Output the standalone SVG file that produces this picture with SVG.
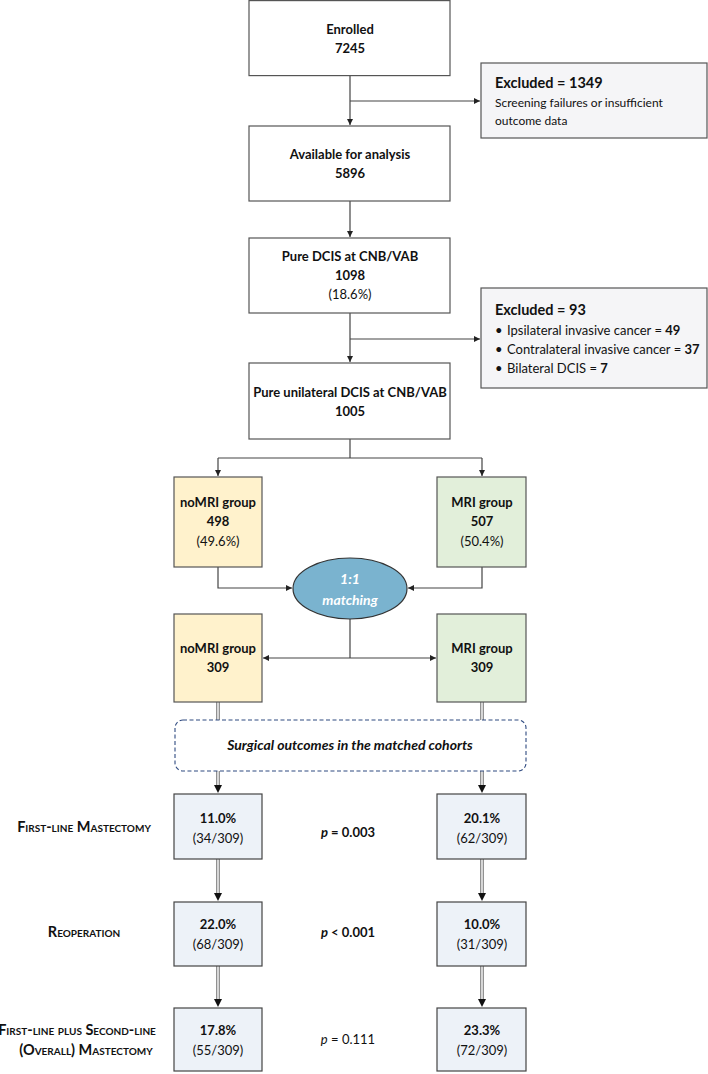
<svg xmlns="http://www.w3.org/2000/svg" width="708" height="1074" viewBox="0 0 708 1074">
<style>
text{font-family:Lato,"Open Sans","Liberation Sans",sans-serif;font-size:13px;fill:#111}
.b{font-weight:bold}
.c{text-anchor:middle}
.h{font-weight:bold;font-size:14.5px}
.box{fill:#fff;stroke:#555;stroke-width:1.2}
.exc{fill:#f5f5f7;stroke:#555;stroke-width:1.2}
.no{fill:#fff2cc;stroke:#555;stroke-width:1.2}
.mri{fill:#e2efda;stroke:#555;stroke-width:1.2}
.out{fill:#edf2f8;stroke:#444;stroke-width:1.2}
.ln{fill:none;stroke:#444;stroke-width:1.2}
.dO{fill:none;stroke:#777;stroke-width:3.6}
.dI{fill:none;stroke:#fff;stroke-width:1.4}
.lab{font-weight:bold;font-variant:small-caps;text-anchor:middle;font-size:14.5px}
.sm{font-size:12px}
</style>
<defs>
<marker id="ar" viewBox="0 0 10 10" refX="10" refY="5" markerWidth="6" markerHeight="6" markerUnits="userSpaceOnUse" orient="auto"><path d="M0,0L10,5L0,10z" fill="#222"/></marker>
<marker id="ab" viewBox="0 0 10 10" refX="10" refY="5" markerWidth="8" markerHeight="8" markerUnits="userSpaceOnUse" orient="auto"><path d="M0,0L10,5L0,10z" fill="#111"/></marker>
</defs>

<g id="connectors">
<path class="ln" d="M350,75V125" marker-end="url(#ar)"/>
<path class="ln" d="M350,101H480" marker-end="url(#ar)"/>
<path class="ln" d="M350,201V237" marker-end="url(#ar)"/>
<path class="ln" d="M350,313V362" marker-end="url(#ar)"/>
<path class="ln" d="M350,339H480" marker-end="url(#ar)"/>
<path class="ln" d="M350,439V458"/>
<path class="ln" d="M218,458H482"/>
<path class="ln" d="M218,458V476" marker-end="url(#ar)"/>
<path class="ln" d="M482,458V476" marker-end="url(#ar)"/>
<path class="ln" d="M218,567V588H292" marker-end="url(#ar)"/>
<path class="ln" d="M482,567V588H408" marker-end="url(#ar)"/>
<path class="ln" d="M350,619V658"/>
<path class="ln" d="M350,658H263" marker-end="url(#ar)"/>
<path class="ln" d="M350,658H436" marker-end="url(#ar)"/>
<path class="dO" d="M218,702V720M482,702V720"/>
<path class="dI" d="M218,702V720M482,702V720"/>
<path class="dO" d="M218,771V786M482,771V786"/>
<path class="dI" d="M218,771V786M482,771V786"/>
<path d="M218,784V793" stroke="none" marker-end="url(#ab)"/>
<path d="M482,784V793" stroke="none" marker-end="url(#ab)"/>
<path class="dO" d="M218,859V894M482,859V894"/>
<path class="dI" d="M218,859V894M482,859V894"/>
<path d="M218,890V901" stroke="none" marker-end="url(#ab)"/>
<path d="M482,890V901" stroke="none" marker-end="url(#ab)"/>
<path class="dO" d="M218,966V1000M482,966V1000"/>
<path class="dI" d="M218,966V1000M482,966V1000"/>
<path d="M218,996V1007" stroke="none" marker-end="url(#ab)"/>
<path d="M482,996V1007" stroke="none" marker-end="url(#ab)"/>
</g>

<g id="enrolled"><rect class="box" x="249" y="0.6" width="201" height="75"/><text class="b c" x="350" y="34">Enrolled</text><text class="b c" x="350" y="53">7245</text></g>
<g id="excluded1"><rect class="exc" x="481" y="63" width="226" height="75"/><text class="h" x="495" y="88">Excluded = 1349</text><text class="sm" x="495" y="107">Screening failures or insufficient</text><text class="sm" x="495" y="125">outcome data</text></g>
<g id="available"><rect class="box" x="249" y="126" width="201" height="75"/><text class="b c" x="350" y="159">Available for analysis</text><text class="b c" x="350" y="178">5896</text></g>
<g id="pure-dcis"><rect class="box" x="249" y="238" width="201" height="75"/><text class="b c" x="350" y="261">Pure DCIS at CNB/VAB</text><text class="b c" x="350" y="280">1098</text><text class="c" x="350" y="299">(18.6%)</text></g>
<g id="excluded2"><rect class="exc" x="481" y="288" width="226" height="100"/><text class="h" x="495" y="315">Excluded = 93</text>
<text x="495" y="335">•<tspan x="507">Ipsilateral invasive cancer = </tspan><tspan class="b">49</tspan></text>
<text x="495" y="354">•<tspan x="507">Contralateral invasive cancer = </tspan><tspan class="b">37</tspan></text>
<text x="495" y="373">•<tspan x="507">Bilateral DCIS = </tspan><tspan class="b">7</tspan></text></g>
<g id="pure-unilateral"><rect class="box" x="249" y="363" width="201" height="76"/><text class="b c" x="350" y="397">Pure unilateral DCIS at CNB/VAB</text><text class="b c" x="350" y="416">1005</text></g>
<g id="nomri1"><rect class="no" x="174" y="477" width="88" height="90"/><text class="b c" x="218" y="507">noMRI group</text><text class="b c" x="218" y="526">498</text><text class="c" x="218" y="546">(49.6%)</text></g>
<g id="mri1"><rect class="mri" x="437" y="477" width="89" height="90"/><text class="b c" x="482" y="507">MRI group</text><text class="b c" x="482" y="526">507</text><text class="c" x="482" y="546">(50.4%)</text></g>
<g id="matching"><ellipse cx="350" cy="588.5" rx="57" ry="30.5" fill="#7ab3cf" stroke="#333" stroke-width="1.2"/><text class="b c" x="350" y="584" font-style="italic" style="fill:#fff;font-size:14px">1:1</text><text class="b c" x="350" y="605" font-style="italic" style="fill:#fff;font-size:14px">matching</text></g>
<g id="nomri2"><rect class="no" x="174" y="614" width="88" height="88"/><text class="b c" x="218" y="653">noMRI group</text><text class="b c" x="218" y="672">309</text></g>
<g id="mri2"><rect class="mri" x="437" y="614" width="89" height="88"/><text class="b c" x="482" y="653">MRI group</text><text class="b c" x="482" y="672">309</text></g>
<g id="surgical"><rect x="175" y="720" width="351" height="51" rx="8" fill="#fff" stroke="#2f4a80" stroke-width="1.1" stroke-dasharray="4,2.5"/><text class="b c" x="350" y="750" font-style="italic" style="font-size:14px">Surgical outcomes in the matched cohorts</text></g>

<g id="row1">
<text class="lab" x="84" y="832">First-line Mastectomy</text>
<rect class="out" x="174" y="794" width="88" height="65"/><text class="b c" x="218" y="823">11.0%</text><text class="c" x="218" y="843">(34/309)</text>
<text class="b c" x="348" y="837"><tspan font-style="italic">p</tspan> = 0.003</text>
<rect class="out" x="437" y="794" width="89" height="65"/><text class="b c" x="482" y="823">20.1%</text><text class="c" x="482" y="843">(62/309)</text>
</g>
<g id="row2">
<text class="lab" x="84" y="937">Reoperation</text>
<rect class="out" x="174" y="902" width="88" height="64"/><text class="b c" x="218" y="929">22.0%</text><text class="c" x="218" y="949">(68/309)</text>
<text class="b c" x="348" y="937"><tspan font-style="italic">p</tspan> &lt; 0.001</text>
<rect class="out" x="437" y="902" width="89" height="64"/><text class="b c" x="482" y="929">10.0%</text><text class="c" x="482" y="949">(31/309)</text>
</g>
<g id="row3">
<text class="lab" x="77" y="1035">First-line plus Second-line</text>
<text class="lab" x="86" y="1055">(Overall) Mastectomy</text>
<rect class="out" x="174" y="1008" width="88" height="63"/><text class="b c" x="218" y="1035">17.8%</text><text class="c" x="218" y="1055">(55/309)</text>
<text class="c" x="348" y="1044"><tspan font-style="italic">p</tspan> = 0.111</text>
<rect class="out" x="437" y="1008" width="89" height="63"/><text class="b c" x="482" y="1035">23.3%</text><text class="c" x="482" y="1055">(72/309)</text>
</g>
</svg>
